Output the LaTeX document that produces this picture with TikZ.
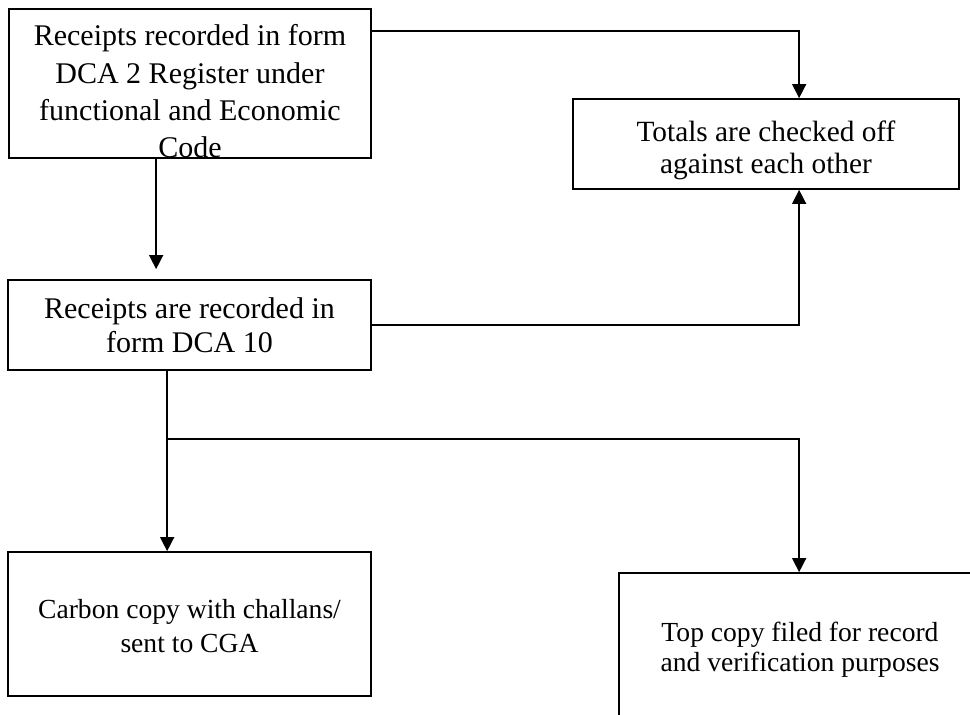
\documentclass[tikz,border=0pt]{standalone}
\usepackage{fontspec}
\setmainfont{Liberation Serif}
\usetikzlibrary{arrows.meta,calc}
% one drawing unit = one pixel of the 970 x 714 sheet
\newcommand{\pxu}{*0.75pt}
\tikzset{
  box/.style={draw, line width=1.3pt, inner sep=0pt},
  lbl/.style={align=center, inner sep=0pt},
  conn/.style={line width=1.1pt, -{Triangle[length=10.5pt,width=10.5pt]}},
}
\begin{document}
\begin{tikzpicture}[x=0.75pt,y=-0.75pt]
\useasboundingbox (0,0) rectangle (970,714);
\clip (0,0) rectangle (970,714);
\fill[white] (0,0) rectangle (970,714);

% frames
\node[box, minimum width={362\pxu}, minimum height={149\pxu}] (reg) at (190,83.5) {};
\node[box, minimum width={386\pxu}, minimum height={90\pxu}]  (tot) at (766,144) {};
\node[box, minimum width={363\pxu}, minimum height={90\pxu}]  (dca) at (189.5,325) {};
\node[box, minimum width={363\pxu}, minimum height={144\pxu}] (cga) at (189.5,624) {};
\node[box, minimum width={362\pxu}, minimum height={150\pxu}] (top) at (800,648) {};

% texts (the last line of the first frame runs into its lower edge)
\begin{scope}
  \clip (reg.south west) rectangle (reg.north east);
  \node[lbl, font=\fontsize{22.5}{28}\selectfont] (regt) at (190,91.5)
    {Receipts recorded in form\\DCA 2 Register under\\functional and Economic\\Code};
\end{scope}
\node[lbl, font=\fontsize{22}{24}\selectfont] (tott) at (766,150)
  {Totals are checked off\\against each other};
\node[lbl, font=\fontsize{22.5}{25.5}\selectfont] (dcat) at (189.5,325)
  {Receipts are recorded in\\form DCA 10};
\node[lbl, font=\fontsize{20.7}{25}\selectfont] (cgat) at (189.5,626)
  {Carbon copy with challans/\\sent to CGA};
\node[lbl, font=\fontsize{20.7}{22.5}\selectfont] (topt) at (800,649.5)
  {Top copy filed for record\\and verification purposes};

% connectors
\draw[conn] ($(reg.north east)+(0,23)$) -| ($(tot.north west)+(227,0)$);
\draw[conn] (dca.east) -| ($(tot.south west)+(227,0)$);
\draw[conn, shorten >=7.5pt] ($(reg.south west)+(148,0)$) -- ($(dca.north west)+(149,0)$);
\draw[conn] ($(dca.south west)+(160,0)$) -- ($(cga.north west)+(160,0)$);
\coordinate (fork) at ($(dca.south west)+(160,68)$);
\draw[conn] (fork) -| ($(top.north west)+(181,0)$);
\end{tikzpicture}
\end{document}
